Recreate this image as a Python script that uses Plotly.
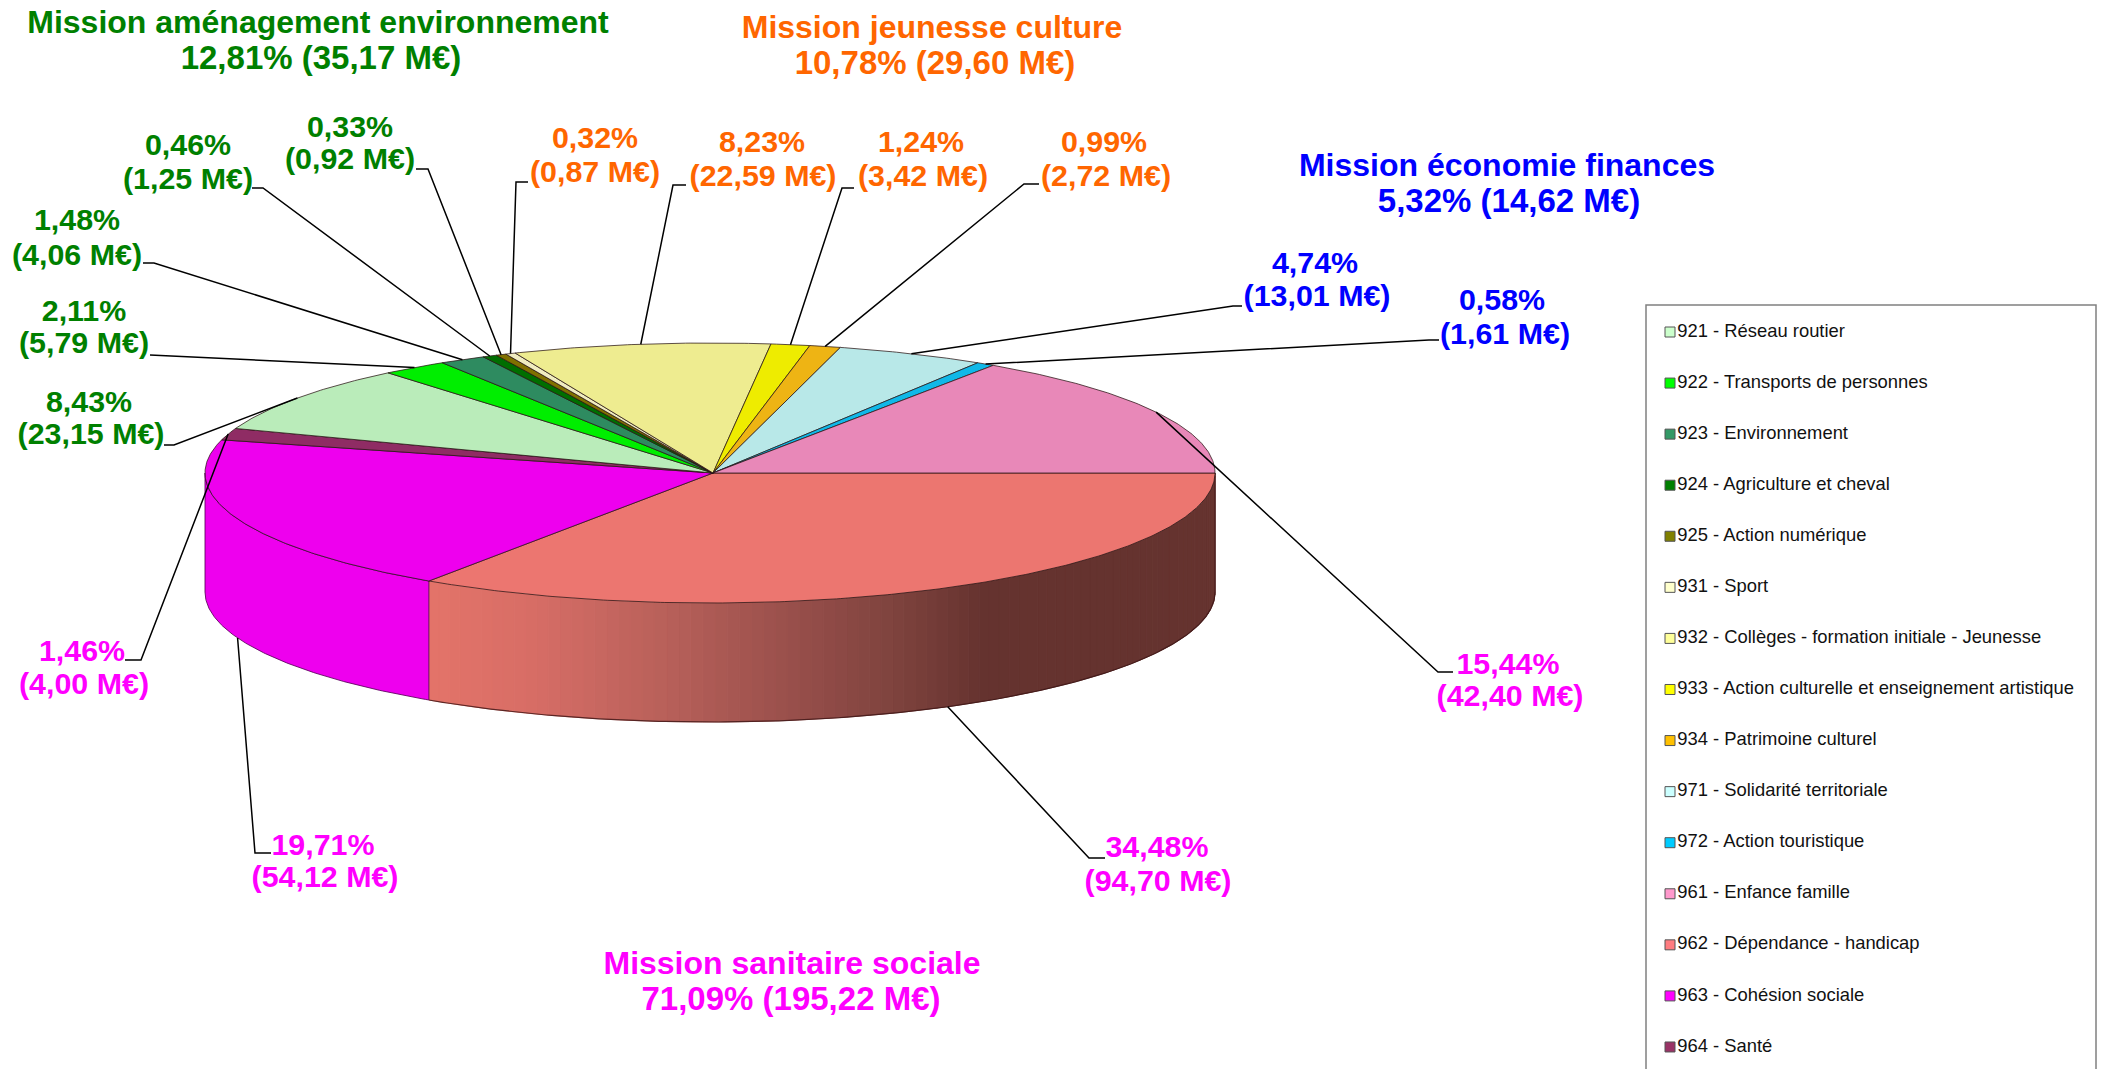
import numpy as np
import plotly.graph_objects as go

# ---------- data ----------
codes = ["962", "963", "964", "921", "922", "923", "924", "925", "931", "932", "933", "934", "971", "972", "961"]
percents = [34.48, 19.71, 1.46, 8.43, 2.11, 1.48, 0.46, 0.33, 0.32, 8.23, 1.24, 0.99, 4.74, 0.58, 15.44]
amounts = [94.70, 54.12, 4.00, 23.15, 5.79, 4.06, 1.25, 0.92, 0.87, 22.59, 3.42, 2.72, 13.01, 1.61, 42.40]
missions = ["sanitaire", "sanitaire", "sanitaire", "amenagement", "amenagement", "amenagement", "amenagement",
            "amenagement", "jeunesse", "jeunesse", "jeunesse", "jeunesse", "economie", "economie", "sanitaire"]

legend_codes = ["921", "922", "923", "924", "925", "931", "932", "933", "934", "971", "972", "961", "962", "963", "964"]
legend_names = ["921 - Réseau routier", "922 - Transports de personnes", "923 - Environnement",
                "924 - Agriculture et cheval", "925 - Action numérique", "931 - Sport",
                "932 - Collèges - formation initiale - Jeunesse", "933 - Action culturelle et enseignement artistique",
                "934 - Patrimoine culturel", "971 - Solidarité territoriale", "972 - Action touristique",
                "961 - Enfance famille", "962 - Dépendance - handicap", "963 - Cohésion sociale", "964 - Santé"]

mission_names = ["Mission aménagement environnement", "Mission jeunesse culture",
                 "Mission économie finances", "Mission sanitaire sociale"]
mission_keys = ["amenagement", "jeunesse", "economie", "sanitaire"]
mission_pct = [12.81, 10.78, 5.32, 71.09]
mission_amt = [35.17, 29.60, 14.62, 195.22]

# ---------- styles and layout ----------
top_colors = {"921": "#BAECBA", "922": "#00EE00", "923": "#2E8B60", "924": "#006E00", "925": "#807000",
              "931": "#F0ECC0", "932": "#EEEC90", "933": "#EEEC00", "934": "#EEB414", "971": "#B8E8E8",
              "972": "#10B8E8", "961": "#E888B8", "962": "#EC7670", "963": "#EE00EE", "964": "#8F2C64"}
legend_colors = {"921": "#CCFFCC", "922": "#00FF00", "923": "#339966", "924": "#008000", "925": "#808000",
                 "931": "#FFFFCC", "932": "#FFFF99", "933": "#FFFF00", "934": "#FFC000", "971": "#CCFFFF",
                 "972": "#00CCFF", "961": "#FF99CC", "962": "#FF7C80", "963": "#FF00FF", "964": "#993366"}
mission_colors = {"amenagement": "#008000", "jeunesse": "#FF6600", "economie": "#0000FF", "sanitaire": "#FF00FF"}
OUT = "rgba(40,20,20,0.75)"
FONT = "Liberation Sans"

CX, CY, RX, RY, DEPTH = 710, 473, 505, 130, 119
APEX_X = 713
ROTATE = -0.3
TEXT_DY = 2.5
TEXT_DX = 1

# label line centres: code -> (x1, y1, x2, y2)
label_pos = {"933": (920, 142, 922, 176), "934": (1103, 142, 1105, 176), "932": (761, 142, 762, 176),
             "931": (594, 138, 594, 172), "925": (349, 127, 349, 159), "924": (187, 145, 187, 179),
             "923": (76, 220, 76, 255), "922": (83, 311, 83, 343), "921": (88, 402, 90, 434),
             "964": (81, 651, 83, 684), "963": (322, 845, 324, 877), "962": (1156, 847, 1157, 881),
             "961": (1507, 664, 1509, 696), "972": (1501, 300, 1504, 334), "971": (1314, 263, 1316, 296)}
# leader: end beside the label, elbow
leader_pos = {"925": [(416, 169), (428, 169)], "924": [(252, 188), (263, 188)], "923": [(143, 263), (154, 263)],
              "931": [(528, 182), (516, 182)], "932": [(686, 185), (673, 185)], "933": [(854, 188), (842, 188)],
              "934": [(1039, 184), (1024, 184)], "971": [(1242, 306), (1233, 306)], "972": [(1439, 340), (1429, 340)],
              "961": [(1453, 672), (1438, 672)], "962": [(1105, 858), (1089, 858)], "963": [(271, 853), (255, 853)],
              "964": [(125, 660), (141, 660)], "921": [(164, 445), (174, 445)], "922": [(150, 355)]}
title_pos = {"amenagement": (318, 22, 321, 58), "jeunesse": (932, 27, 935, 63),
             "economie": (1507, 165, 1509, 201), "sanitaire": (792, 963, 791, 999)}
LEG_Y0, LEG_DY = 332, 51.07

# side shading stops for the big slice: pixel x -> rgb
shade_x = [429, 531, 671, 811, 891, 985, 1215]
shade_r = [228, 216, 183, 148, 128, 101, 101]
shade_g = [116, 110, 96, 77, 68, 51, 51]
shade_b = [106, 102, 90, 73, 63, 47, 47]


def px(a):
    return CX + RX * np.cos(np.radians(a))


def py(a, z=0):
    return CY + RY * np.sin(np.radians(a)) + z


def fmt(v):
    return f"{v:.2f}".replace(".", ",")


fig = go.Figure()
edges = np.concatenate([[0], np.cumsum(percents)]) / sum(percents) * 360 + ROTATE
edges[0] = 0
edges[-1] = 360
idx = {c: i for i, c in enumerate(codes)}


def add_poly(xs, ys, fill, line=OUT, w=1.0):
    fig.add_trace(go.Scatter(x=xs, y=ys, mode="lines", fill="toself", fillcolor=fill,
                             line=dict(color=line, width=w), hoverinfo="skip", showlegend=False))


# sides: only the front half shows
a0, a1 = edges[idx["962"]], edges[idx["962"] + 1]
steps = np.arange(a0, a1 + 0.01, (a1 - a0) / 90)
for s0, s1 in zip(steps[:-1], steps[1:]):
    m = px((s0 + s1) / 2)
    c = "rgb(%d,%d,%d)" % (np.interp(m, shade_x, shade_r), np.interp(m, shade_x, shade_g), np.interp(m, shade_x, shade_b))
    xs = [px(s0), px(s1), px(s1), px(s0), px(s0)]
    ys = [py(s0), py(s1), py(s1, DEPTH), py(s0, DEPTH), py(s0)]
    add_poly(xs, ys, c, line=c, w=1)
a = np.linspace(a0, a1, 200)
fig.add_trace(go.Scatter(x=px(a), y=py(a, DEPTH), mode="lines", line=dict(color="rgba(60,20,20,0.8)", width=1.2),
                         hoverinfo="skip", showlegend=False))
fig.add_trace(go.Scatter(x=[px(0), px(0)], y=[py(0), py(0, DEPTH)], mode="lines",
                         line=dict(color="rgba(60,20,20,0.8)", width=1), hoverinfo="skip", showlegend=False))

b0, b1 = edges[idx["963"]], 180
a = np.linspace(b0, b1, 120)
add_poly(np.concatenate([px(a), px(a[::-1]), [px(a[0])]]),
         np.concatenate([py(a), py(a[::-1], DEPTH), [py(a[0])]]), top_colors["963"], line="rgba(90,0,90,0.85)")

# top faces
for i, code in enumerate(codes):
    s, e = edges[i], edges[i + 1]
    a = np.linspace(s, e, max(4, int((e - s) * 2)))
    add_poly(np.concatenate([[APEX_X], px(a), [APEX_X]]), np.concatenate([[CY], py(a), [CY]]), top_colors[code])

# leaders
for i, code in enumerate(codes):
    mid = (edges[i] + edges[i + 1]) / 2
    z = DEPTH if np.sin(np.radians(mid)) > 0 else 0
    pts = leader_pos[code] + [(px(mid), py(mid, z))]
    fig.add_trace(go.Scatter(x=[p[0] for p in pts], y=[p[1] for p in pts], mode="lines",
                             line=dict(color="black", width=1.5), hoverinfo="skip", showlegend=False))

# slice labels
for i, code in enumerate(codes):
    x1, y1, x2, y2 = label_pos[code]
    fig.add_trace(go.Scatter(x=[x1 + TEXT_DX, x2 + TEXT_DX], y=[y1 + TEXT_DY, y2 + TEXT_DY], mode="text",
                             text=[f"{fmt(percents[i])}%", f"({fmt(amounts[i])} M€)"], textposition="middle center",
                             textfont=dict(family=FONT, size=30.4, color=mission_colors[missions[i]]),
                             texttemplate="<b>%{text}</b>", hoverinfo="skip", showlegend=False))

# mission labels
for k, name, p, m in zip(mission_keys, mission_names, mission_pct, mission_amt):
    x1, y1, x2, y2 = title_pos[k]
    fig.add_trace(go.Scatter(x=[x1, x2], y=[y1 + TEXT_DY, y2 + TEXT_DY], mode="text",
                             text=[name, f"{fmt(p)}% ({fmt(m)} M€)"], textposition="middle center",
                             textfont=dict(family=FONT, size=[32, 33], color=mission_colors[k]),
                             texttemplate="<b>%{text}</b>", hoverinfo="skip", showlegend=False))

# key
ky = [LEG_Y0 + LEG_DY * i for i in range(len(legend_codes))]
fig.add_trace(go.Scatter(x=[1670] * len(ky), y=ky, mode="markers+text", text=legend_names, textposition="middle right",
                         textfont=dict(family=FONT, size=18.4, color="#111111"),
                         marker=dict(symbol="square", size=10, color=[legend_colors[c] for c in legend_codes],
                                     line=dict(color="#555555", width=1)),
                         hoverinfo="text", showlegend=False))

fig.update_layout(width=2102, height=1069, margin=dict(l=0, r=0, t=0, b=0), paper_bgcolor="white", plot_bgcolor="white",
                  xaxis=dict(range=[0, 2102], visible=False, fixedrange=True),
                  yaxis=dict(range=[1069, 0], visible=False, fixedrange=True),
                  shapes=[dict(type="rect", xref="x", yref="y", x0=1646, x1=2096, y0=305, y1=1090,
                               line=dict(color="#808080", width=1.5), fillcolor="rgba(0,0,0,0)", layer="below")])

fig.write_html("out.html", config=dict(displayModeBar=False),
               post_script="document.body.style.margin='0';document.body.style.overflow='hidden';")
